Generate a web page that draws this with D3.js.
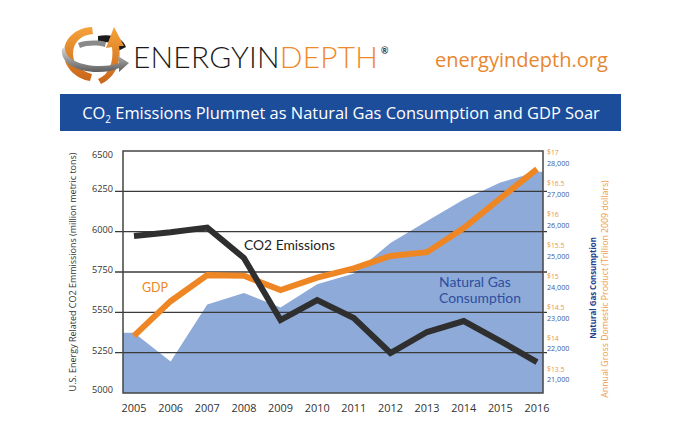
<!DOCTYPE html>
<html><head><meta charset="utf-8">
<script src="https://cdn.jsdelivr.net/npm/d3@7"></script>
<style>
html,body{margin:0;padding:0;background:#fff;}
svg{display:block;font-family:Lato,"Open Sans",sans-serif;}
</style></head>
<body>
<svg id="c" width="680" height="440"></svg>
<script>
// ---- data ----
const years = [2005,2006,2007,2008,2009,2010,2011,2012,2013,2014,2015,2016];
const co2 = [5973,5996,6025,5837,5452,5576,5465,5248,5378,5446,5322,5192];
const gdp = [14.05,14.61,15.03,15.02,14.79,14.99,15.14,15.34,15.40,15.79,16.27,16.74];
const gas = [22530,21600,23450,23820,23350,24100,24450,25440,26150,26850,27400,27750];
const co2Ticks = [5000,5250,5500,5750,6000,6250,6500];
const co2TickLabels = ["5000","5250","5550","5750","6000","6250","6500"];
const gdpTicks = [13.5,14,14.5,15,15.5,16,16.5,17];
const gdpTickLabels = ["$13.5","$14","$14.5","$15","$15.5","$16","$16.5","$17"];
const gasTicks = [21000,22000,23000,24000,25000,26000,27000,28000];
const gasTickLabels = ["21,000","22,000","23,000","24,000","25,000","26,000","27,000","28,000"];
const titleMain = " Emissions Plummet as Natural Gas Consumption and GDP Soar";
const gasLabelLines = ["Natural Gas","Consumption"];

// ---- layout ----
const svg = d3.select("#c");
const L = 123, R = 543, T = 151, B = 393;
const x = d3.scaleLinear().domain([2005,2016]).range([134,537]);
const yC = d3.scaleLinear().domain([5000,6500]).range([B,T]);
const yG = d3.scaleLinear().domain([13.5,17]).range([370,153]);
const yN = d3.scaleLinear().domain([21000,28000]).range([380,164]);

function fit(sel, w){
  const n = sel.node(); const fs = parseFloat(sel.attr("font-size"));
  const len = n.getComputedTextLength(); const f = fs*w/len;
  sel.attr("font-size", f); return f;
}

// ---- header: logo ----
const logo = svg.append("g");
const defs = svg.append("defs");
const og = defs.append("linearGradient").attr("id","og").attr("x1","0").attr("y1","0").attr("x2","0").attr("y2","1");
og.append("stop").attr("offset","0").attr("stop-color","#f6a33a");
og.append("stop").attr("offset","1").attr("stop-color","#c9651a");
const gg = defs.append("linearGradient").attr("id","gg").attr("x1","0").attr("y1","0").attr("x2","0").attr("y2","1");
gg.append("stop").attr("offset","0").attr("stop-color","#d9d9d9");
gg.append("stop").attr("offset","0.5").attr("stop-color","#9a9a9a");
gg.append("stop").attr("offset","1").attr("stop-color","#5e5e5e");
logo.append("path").attr("d","M98,36 C112,33 123,38 126,47 L118,51 C116,44 108,41 98,42 Z").attr("fill","#1a1a1a");
logo.append("path").attr("d","M92,27 C75,28 63,39 64,55 C65,69 77,79 90,81 L92,74 C81,71 73,64 73,54 C73,42 81,35 93,34 Z").attr("fill","url(#og)");
logo.append("path").attr("d","M98,79 C109,75 114,62 112,47 L106,48 L114,27 L124,46 L119,46 C122,64 114,78 101,84 Z").attr("fill","url(#og)");
logo.append("path").attr("d","M65,47 C64,58 79,66 100,66 C108,66 114,65 119,63 L118,56 L129,63 L119,72 L119,68 C112,71 106,72 98,72 C75,72 60,62 62,49 Z").attr("fill","url(#gg)");
logo.append("path").attr("d","M78,43 C87,40 98,40 106,42 L105,47 C97,45 88,45 80,48 Z").attr("fill","#8a8a8a");

const lt = logo.append("text").attr("x",133).attr("y",68).attr("font-size",32).attr("font-weight",300)
  .attr("font-family","Lato,sans-serif").attr("letter-spacing","0.2");
lt.append("tspan").attr("fill","#1a1a1a").text("ENERGY");
lt.append("tspan").attr("fill","#1a1a1a").text("IN");
lt.append("tspan").attr("fill","#ef8a2c").text("DEPTH");
fit(lt, 245);
logo.append("text").attr("x",381).attr("y",54).attr("font-size",9).attr("font-weight",700).attr("fill","#333").text("®");

const url = svg.append("text").attr("x",435).attr("y",67).attr("font-size",21).attr("fill","#e8872e")
  .attr("font-family","'Open Sans',sans-serif").text("energyindepth.org");
fit(url, 173);

// ---- title bar ----
svg.append("rect").attr("x",60).attr("y",94).attr("width",561).attr("height",37).attr("fill","#1c4d9b");
const tt = svg.append("text").attr("x",341).attr("y",119).attr("text-anchor","middle").attr("font-size",19).attr("fill","#fff")
  .attr("font-family","'Open Sans',sans-serif");
tt.append("tspan").text("CO");
tt.append("tspan").attr("font-size","0.6em").attr("dy",4).text("2");
tt.append("tspan").attr("dy",-4).text(titleMain);
fit(tt, 518);

// ---- plot ----
const plot = svg.append("g");
const areaData = [{year:x.invert(L), v:gas[0]}].concat(years.map((y,i)=>({year:y,v:gas[i]}))).concat([{year:x.invert(R), v:gas[gas.length-1]}]);
plot.append("path").datum(areaData)
  .attr("d", d3.area().x(d=>x(d.year)).y0(B).y1(d=>yN(d.v)))
  .attr("fill","#8eaad9");

plot.selectAll("line.grid").data(co2Ticks.slice(1,-1)).join("line").attr("class","grid")
  .attr("x1",115).attr("x2",547).attr("y1",d=>yC(d)).attr("y2",d=>yC(d))
  .attr("stroke","#3a3a3a").attr("stroke-width",1.3);
plot.append("rect").attr("x",L).attr("y",T).attr("width",R-L).attr("height",B-T)
  .attr("fill","none").attr("stroke","#444").attr("stroke-width",1.5);

plot.append("path").datum(gdp).attr("d", d3.line().x((d,i)=>x(years[i])).y(d=>yG(d)))
  .attr("fill","none").attr("stroke","#ef8624").attr("stroke-width",6).attr("stroke-linejoin","miter");
plot.append("path").datum(co2).attr("d", d3.line().x((d,i)=>x(years[i])).y(d=>yC(d)))
  .attr("fill","none").attr("stroke","#2f2f2f").attr("stroke-width",6).attr("stroke-linejoin","miter");

// series labels
const lc = plot.append("text").attr("x",244).attr("y",250).attr("font-size",15).attr("fill","#222").text("CO2 Emissions");
fit(lc, 91);
const lg = plot.append("text").attr("x",142).attr("y",292).attr("font-size",15).attr("fill","#ef8624").text("GDP");
fit(lg, 26);
const lnText = plot.append("g").selectAll("text").data(gasLabelLines).join("text")
  .attr("x",439).attr("y",(d,i)=>287+i*16).attr("font-size",15).attr("fill","#2d4f9e").text(d=>d);
{ const f = fit(d3.select(lnText.nodes()[1]), 82); lnText.attr("font-size", f); }

// left axis labels
const lx = plot.append("g").selectAll("text").data(co2Ticks).join("text")
  .attr("x",113).attr("y",d=>Math.min(Math.max(yC(d)-2, T+4), B-3)).attr("dy","0.32em").attr("text-anchor","end")
  .attr("font-size",10).attr("fill","#333").attr("font-family","'Open Sans',sans-serif")
  .text((d,i)=>co2TickLabels[i]);
{ const f = fit(d3.select(lx.nodes()[6]), 21); lx.attr("font-size", f); }

// right axis labels
const rg = plot.append("g").selectAll("text").data(gdpTicks).join("text")
  .attr("x",547).attr("y",d=>yG(d)).attr("dy","0.32em")
  .attr("font-size",9).attr("fill","#e8953f").attr("font-family","'Open Sans',sans-serif")
  .text((d,i)=>gdpTickLabels[i]);
{ const f = fit(d3.select(rg.nodes()[6]), 17.5); rg.attr("font-size", f); }
const rn = plot.append("g").selectAll("text").data(gasTicks).join("text")
  .attr("x",547).attr("y",d=>yN(d)).attr("dy","0.32em")
  .attr("font-size",9).attr("fill","#3d5a99").attr("font-family","'Open Sans',sans-serif")
  .text((d,i)=>gasTickLabels[i]);
{ const f = fit(d3.select(rn.nodes()[7]), 22.5); rn.attr("font-size", f); }

// x axis labels
const xl = plot.append("g").selectAll("text").data(years).join("text")
  .attr("x",d=>x(d)).attr("y",408).attr("dy","0.35em").attr("text-anchor","middle")
  .attr("font-size",11).attr("fill","#333").attr("font-family","'Open Sans',sans-serif")
  .text(d=>d);
{ const f = fit(d3.select(xl.nodes()[0]), 25); xl.attr("font-size", f); }

// axis titles
const at1 = svg.append("text").attr("transform","translate(76,272) rotate(-90)").attr("text-anchor","middle")
  .attr("font-size",10).attr("fill","#333").attr("font-family","'Open Sans',sans-serif")
  .text("U.S. Energy Related CO2 Emmissions (million metric tons)");
fit(at1, 239);
const at2 = svg.append("text").attr("transform","translate(596,288) rotate(-90)").attr("text-anchor","middle")
  .attr("font-size",11).attr("font-weight",700).attr("fill","#1f3f8f").attr("font-family","'Open Sans',sans-serif")
  .text("Natural Gas Consumption");
fit(at2, 102);
const at3 = svg.append("text").attr("transform","translate(608,289) rotate(-90)").attr("text-anchor","middle")
  .attr("font-size",11).attr("fill","#ee9a48").attr("font-family","'Open Sans',sans-serif")
  .text("Annual Gross Domestic Product (Trillion 2009 dollars)");
fit(at3, 218);
</script>
</body></html>
